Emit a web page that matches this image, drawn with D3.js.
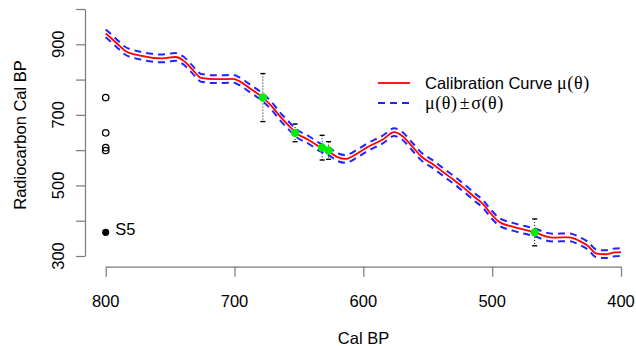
<!DOCTYPE html>
<html>
<head>
<meta charset="utf-8">
<script src="https://cdn.jsdelivr.net/npm/d3@7"></script>
<style>
  html, body { margin: 0; padding: 0; background: #fff; }
  svg { display: block; }
  text { font-family: "Liberation Sans", Arial, Helvetica, sans-serif; fill: #000; }
  .sym { font-family: "Liberation Serif", "DejaVu Serif", serif; }
</style>
</head>
<body>
<svg id="chart" width="636" height="346"></svg>
<script>
// Calibration curve: theta (Cal BP) and mu(theta) (Radiocarbon)
const curveTheta = [800, 792, 785, 773, 756, 746, 740, 733, 726, 715, 701, 696, 688, 678, 670, 665, 658, 652, 643, 633, 627, 620, 614, 605, 597, 585, 576, 570, 562, 555, 546, 537, 530, 522, 514, 507, 501, 495, 484, 468, 453, 440, 432, 426, 419, 412, 405, 400];
const curveMu    = [931, 905, 882, 868, 860, 864, 855, 830, 805, 801, 802, 795, 775, 749, 720, 697, 670, 648, 630, 607, 597, 580, 575, 590, 608, 630, 651, 641, 610, 582, 560, 535, 516, 493, 468, 447, 420, 398, 383, 368, 352, 353, 342, 330, 307, 305, 310, 311];
const curveSigma = [11, 11, 11, 11, 11, 11, 11, 11, 11, 11, 11, 11, 11, 11, 11, 11, 11, 11, 11, 11, 11, 11, 11, 11, 11, 11, 11, 11, 11, 11, 11, 11, 11, 11, 11, 11, 11, 11, 11, 11, 11, 11, 11, 11, 11, 11, 11, 11];

// Samples: radiocarbon measurements, their calibrated positions and errors
const sampleNames  = ["S1", "S2", "S3", "S4", "S5"];
const sampleRC     = [749, 649, 607, 599, 367];
const sampleTheta  = [678, 653, 632, 627, 467];
const sampleErr    = [68, 25, 35, 25, 38];

// Axis ticks
const xTicks = [800, 700, 600, 500, 400];
const yTicks = [300, 400, 500, 600, 700, 800, 900, 1000];
const yTickLabels = [300, 500, 700, 900];

const svg = d3.select("#chart");
const x = d3.scaleLinear().domain([800, 400]).range([105.7, 621]);
const y = d3.scaleLinear().domain([300, 1000]).range([256, 9]);

const axisColor = "#7a7a7a";
const fs = "16.5px";

// Y axis
const yAxisX = 85;
const gy = svg.append("g").attr("transform", `translate(${yAxisX},0)`);
gy.call(d3.axisLeft(y).tickValues(yTicks).tickSize(9).tickSizeOuter(0).tickFormat(""));
gy.select(".domain").attr("stroke", axisColor).attr("stroke-width", 1.2);
gy.selectAll(".tick line").attr("stroke", axisColor).attr("stroke-width", 1.2);
gy.selectAll(".ytl").data(yTickLabels).enter().append("text")
  .attr("transform", d => `translate(${58 - yAxisX},${y(d)}) rotate(-90)`)
  .attr("text-anchor", "middle")
  .attr("dominant-baseline", "central")
  .style("font-size", fs)
  .text(d => d);

// X axis
const xAxisY = 266.7;
const gx = svg.append("g").attr("transform", `translate(0,${xAxisY})`);
gx.call(d3.axisBottom(x).tickValues(xTicks).tickSize(10).tickSizeOuter(0).tickFormat(""));
gx.select(".domain").attr("stroke", axisColor).attr("stroke-width", 1.2);
gx.selectAll(".tick line").attr("stroke", axisColor).attr("stroke-width", 1.2);
gx.selectAll(".xtl").data(xTicks).enter().append("text")
  .attr("x", d => x(d))
  .attr("y", 301 - xAxisY)
  .attr("text-anchor", "middle")
  .attr("dominant-baseline", "central")
  .style("font-size", fs)
  .text(d => d);

// Axis titles
svg.append("text")
  .attr("x", 363.5).attr("y", 337.5)
  .attr("text-anchor", "middle")
  .attr("dominant-baseline", "central")
  .style("font-size", fs)
  .text("Cal BP");
svg.append("text")
  .attr("transform", "translate(20,135) rotate(-90)")
  .attr("text-anchor", "middle")
  .attr("dominant-baseline", "central")
  .style("font-size", fs)
  .text("Radiocarbon Cal BP");

// Curve data
const curveData = curveTheta.map((t, i) => ({ t, mu: curveMu[i], s: curveSigma[i] }));
const lineMu = d3.line().x(d => x(d.t)).y(d => y(d.mu)).curve(d3.curveMonotoneX);
const lineUp = d3.line().x(d => x(d.t)).y(d => y(d.mu + d.s)).curve(d3.curveMonotoneX);
const lineDn = d3.line().x(d => x(d.t)).y(d => y(d.mu - d.s)).curve(d3.curveMonotoneX);

const blue = "#2323ff";
const red = "#ff0000";
[lineUp, lineDn].forEach(l => {
  svg.append("path").datum(curveData)
    .attr("d", l).attr("fill", "none")
    .attr("stroke", blue).attr("stroke-width", 2)
    .attr("stroke-dasharray", "7,5");
});
svg.append("path").datum(curveData)
  .attr("d", lineMu).attr("fill", "none")
  .attr("stroke", red).attr("stroke-width", 1.8);

// Samples
const samples = sampleNames.map((n, i) => ({ n, rc: sampleRC[i], t: sampleTheta[i], e: sampleErr[i] }));

// Error bars
samples.forEach(d => {
  const cx = x(d.t);
  svg.append("line")
    .attr("x1", cx).attr("x2", cx)
    .attr("y1", y(d.rc + d.e)).attr("y2", y(d.rc - d.e))
    .attr("stroke", "#000").attr("stroke-width", 1)
    .attr("stroke-dasharray", "1,2");
  [d.rc + d.e, d.rc - d.e].forEach(v => {
    svg.append("line")
      .attr("x1", cx - 2.5).attr("x2", cx + 2.5)
      .attr("y1", y(v)).attr("y2", y(v))
      .attr("stroke", "#000").attr("stroke-width", 1.4);
  });
});

// Green points on curve
svg.selectAll(".gp").data(samples).enter().append("circle")
  .attr("cx", d => x(d.t)).attr("cy", d => y(d.rc))
  .attr("r", 4.2).attr("fill", "#00ee00");

// Measurements at x = 800
svg.selectAll(".oc").data(samples.filter(d => d.n !== "S5")).enter().append("circle")
  .attr("cx", x(800)).attr("cy", d => y(d.rc))
  .attr("r", 3.2).attr("fill", "none")
  .attr("stroke", "#000").attr("stroke-width", 1.3);
const s5 = samples.find(d => d.n === "S5");
svg.append("circle")
  .attr("cx", x(800)).attr("cy", y(s5.rc))
  .attr("r", 3.6).attr("fill", "#000");
svg.append("text")
  .attr("x", x(800) + 9.5).attr("y", y(s5.rc) - 3.5)
  .attr("dominant-baseline", "central")
  .style("font-size", fs)
  .text(s5.n);

// Legend
const lg = svg.append("g");
lg.append("line").attr("x1", 378).attr("x2", 410).attr("y1", 83).attr("y2", 83)
  .attr("stroke", red).attr("stroke-width", 1.8);
lg.append("line").attr("x1", 378).attr("x2", 410).attr("y1", 103).attr("y2", 103)
  .attr("stroke", blue).attr("stroke-width", 2).attr("stroke-dasharray", "7,5");
const t1 = lg.append("text").attr("x", 425).attr("y", 83).attr("dominant-baseline", "central")
  .style("font-size", fs);
t1.append("tspan").text("Calibration Curve ");
t1.append("tspan").attr("class", "sym").style("font-size", "18px").style("letter-spacing", "0.6px").text("μ(θ)");
const t2 = lg.append("text").attr("x", 425).attr("y", 103).attr("dominant-baseline", "central")
  .style("font-size", "18px").attr("class", "sym").style("letter-spacing", "0.6px");
t2.append("tspan").text("μ(θ)");
t2.append("tspan").attr("dx", 2).text("±");
t2.append("tspan").attr("dx", 1).text("σ(θ)");
</script>
</body>
</html>
